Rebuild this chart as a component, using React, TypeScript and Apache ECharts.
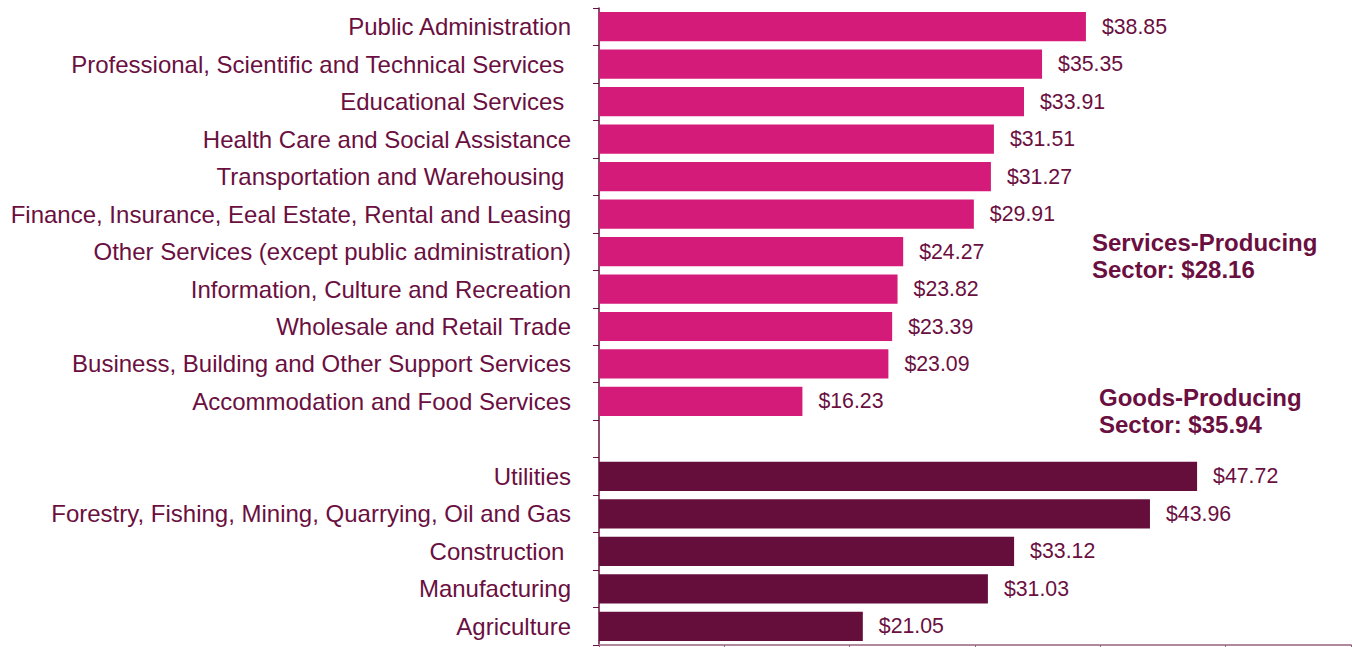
import React, { useEffect, useRef } from "react";
import * as echarts from "echarts";

const servicesCategories = [
  "Public Administration",
  "Professional, Scientific and Technical Services ",
  "Educational Services ",
  "Health Care and Social Assistance",
  "Transportation and Warehousing ",
  "Finance, Insurance, Eeal Estate, Rental and Leasing",
  "Other Services (except public administration)",
  "Information, Culture and Recreation",
  "Wholesale and Retail Trade",
  "Business, Building and Other Support Services",
  "Accommodation and Food Services",
];
const servicesValues = [38.85, 35.35, 33.91, 31.51, 31.27, 29.91, 24.27, 23.82, 23.39, 23.09, 16.23];

const goodsCategories = [
  "Utilities",
  "Forestry, Fishing, Mining, Quarrying, Oil and Gas",
  "Construction ",
  "Manufacturing",
  "Agriculture",
];
const goodsValues = [47.72, 43.96, 33.12, 31.03, 21.05];

const servicesNote = ["Services-Producing", "Sector: $28.16"];
const goodsNote = ["Goods-Producing", "Sector: $35.94"];

const TEXT = "#6A0F3F";
const PINK = "#D51B7A";
const MAROON = "#660E3B";

export default function App() {
  const ref = useRef<HTMLDivElement>(null);
  useEffect(() => {
    if (!ref.current) return;
    const chart = echarts.init(ref.current, undefined, { renderer: "svg" });
    const categories = [...servicesCategories, "", ...goodsCategories];
    const sData = [...servicesValues, ...new Array(1 + goodsValues.length).fill(null)];
    const gData = [...new Array(servicesValues.length + 1).fill(null), ...goodsValues];
    const label = {
      show: true,
      position: "right",
      distance: 16,
      color: TEXT,
      fontSize: 21.3,
      fontFamily: "Liberation Sans, Arial, sans-serif",
      formatter: (p: any) => "$" + Number(p.value).toFixed(2),
    };
    chart.setOption({
      animation: false,
      grid: { left: 599, right: 1, top: 8, bottom: 2, containLabel: false },
      xAxis: {
        type: "value",
        min: 0,
        max: 60,
        interval: 10,
        axisLine: { show: true, lineStyle: { color: "#B08A9C", width: 2 } },
        axisTick: { show: true, length: 4, lineStyle: { color: "#8A6478" } },
        axisLabel: { show: false },
        splitLine: { show: false },
      },
      yAxis: {
        type: "category",
        inverse: true,
        data: categories,
        axisLine: { show: true, lineStyle: { color: TEXT, width: 1.5 } },
        axisTick: { show: true, length: 6, lineStyle: { color: TEXT } },
        axisLabel: {
          color: TEXT,
          fontSize: 24,
          margin: 28,
          fontFamily: "Liberation Sans, Arial, sans-serif",
        },
      },
      series: [
        {
          type: "bar",
          data: sData,
          barCategoryGap: "22%",
          barGap: "-100%",
          itemStyle: { color: PINK },
          label,
        },
        {
          type: "bar",
          data: gData,
          barCategoryGap: "22%",
          barGap: "-100%",
          itemStyle: { color: MAROON },
          label,
        },
      ],
      graphic: [
        {
          type: "text",
          left: 1092,
          top: 229,
          style: {
            text: servicesNote.join("\n"),
            fill: TEXT,
            font: "bold 24px 'Liberation Sans', Arial, sans-serif",
            lineHeight: 27,
          },
        },
        {
          type: "text",
          left: 1099,
          top: 384,
          style: {
            text: goodsNote.join("\n"),
            fill: TEXT,
            font: "bold 24px 'Liberation Sans', Arial, sans-serif",
            lineHeight: 27,
          },
        },
      ],
    });
    return () => chart.dispose();
  }, []);
  return <div ref={ref} style={{ width: 1352, height: 647, position: "absolute", left: 0, top: 0 }} />;
}
